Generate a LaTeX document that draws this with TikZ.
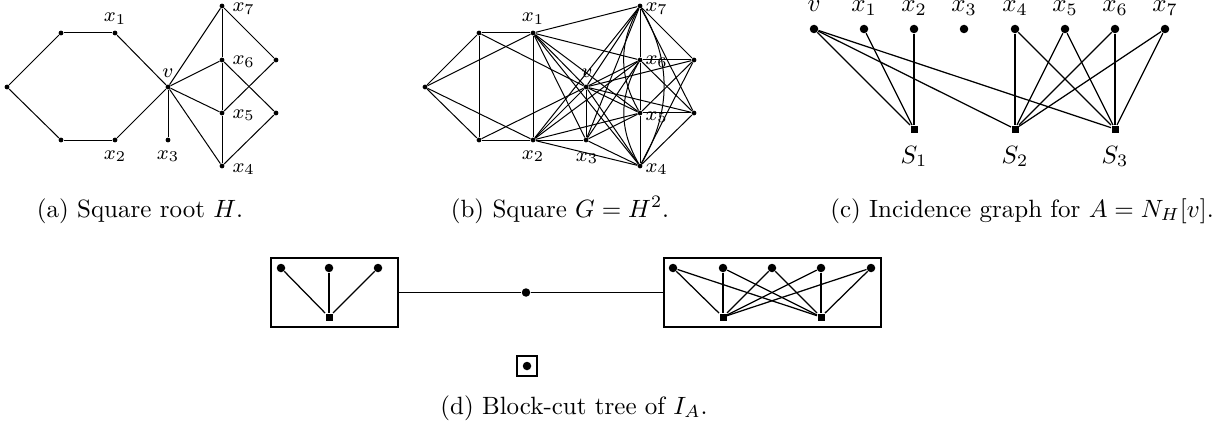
\documentclass[tikz,border=0pt]{standalone}
\usetikzlibrary{calc}
\begin{document}
\begin{tikzpicture}[x=0.4pt,y=-0.4pt,
  sdot/.style={circle,fill=black,inner sep=0pt,minimum size=1.9pt},
  bdot/.style={circle,fill=black,inner sep=0pt,minimum size=3.4pt},
  sq/.style={rectangle,fill=black,inner sep=0pt,minimum size=2.8pt},
  sedge/.style={line width=0.4pt},
  bedge/.style={line width=0.5pt},
  slab/.style={font=\fontsize{8.5}{10}\selectfont,inner sep=0pt},
  blab/.style={font=\fontsize{10}{12}\selectfont,inner sep=0pt,anchor=base},
  captext/.style={font=\fontsize{10}{12}\selectfont,inner sep=0pt,anchor=base},
  blk/.style={draw,line width=0.45pt,inner sep=0pt,rectangle}
]
\useasboundingbox (0,0) rectangle (1217,426);
\clip (0,0) rectangle (1217,426);

% ---------- (a) and (b): vertices ----------
\foreach \n/\x/\y in {L/0/87, TL/54/33, X1/108/33, BL/54/140, X2/108/140,
  V/161/87, X3/161/140, X7/215/6, X6/215/60, X5/215/113, X4/215/166,
  R1/269/60, R2/269/113} {
  \node[sdot] (a\n) at (7+\x,\y) {};
  \node[sdot] (b\n) at (425+\x,\y) {};
}
% edges of H (in both)
\foreach \p/\q in {L/TL, TL/X1, X1/V, V/X2, X2/BL, BL/L, V/X3, V/X4, V/X5,
  V/X6, V/X7, X7/X6, X6/X5, X5/X4, X7/R1, X5/R1, X6/R2, X4/R2} {
  \draw[sedge] (a\p) -- (a\q);
  \draw[sedge] (b\p) -- (b\q);
}
% extra edges of G = H^2
\foreach \p/\q in {L/X1, L/X2, TL/BL, TL/V, BL/V, X1/X2, X1/X3, X1/X4, X1/X5,
  X1/X6, X1/X7, X2/X3, X2/X4, X2/X5, X2/X6, X2/X7, X3/X4, X3/X5, X3/X6, X3/X7,
  V/R1, V/R2, X6/R1, X4/R1, X7/R2, X5/R2} {
  \draw[sedge] (b\p) -- (b\q);
}
\draw[sedge] (bX7) to[bend right=30] (bX5);
\draw[sedge] (bX6) to[bend right=30] (bX4);
\draw[sedge] (bX7) to[bend left=30] (bX4);

% labels (a)
\node[slab,anchor=base] (la1) at (115,22) {$x_1$};
\node[slab,anchor=base] (lav) at (168,78) {$v$};
\node[slab,anchor=base] (la2) at (115,159) {$x_2$};
\node[slab,anchor=base] (la3) at (168,159) {$x_3$};
\node[slab,anchor=base west] (la7) at (232,12) {$x_7$};
\node[slab,anchor=base west] (la6) at (232,65) {$x_6$};
\node[slab,anchor=base west] (la5) at (232,118) {$x_5$};
\node[slab,anchor=base west] (la4) at (232,172) {$x_4$};
% labels (b)
\node[slab,anchor=base] (lb1) at (533,22) {$x_1$};
\node[slab,anchor=base] (lbv) at (587,78) {$v$};
\node[slab,anchor=base] (lb2) at (533,159) {$x_2$};
\node[slab,anchor=base] (lb3) at (587,161) {$x_3$};
\node[slab,anchor=base west] (lb7) at (645,12) {$x_7$};
\node[slab,anchor=base west] (lb6) at (645,65) {$x_6$};
\node[slab,anchor=base west] (lb5) at (645,120) {$x_5$};
\node[slab,anchor=base west] (lb4) at (645,172) {$x_4$};

% ---------- (c) incidence graph ----------
\foreach \n/\x/\t in {V/814/v, X1/864/x_1, X2/914/x_2, X3/964/x_3, X4/1015/x_4,
  X5/1065/x_5, X6/1115/x_6, X7/1165/x_7} {
  \node[bdot] (c\n) at (\x,29) {};
  \node[blab] (lc\n) at (\x,12) {$\t$};
}
\foreach \n/\x in {1/914, 2/1015, 3/1115} {
  \node[sq] (cS\n) at (\x,129) {};
  \node[blab] (lcS\n) at (\x,163) {$S_\n$};
}
\foreach \p in {V, X1, X2} \draw[bedge] (c\p) -- (cS1);
\foreach \p in {V, X4, X5, X6, X7} {
  \draw[bedge] (c\p) -- (cS2);
  \draw[bedge] (c\p) -- (cS3);
}

% ---------- (d) block-cut tree ----------
\node[blk,minimum width=50.8pt,minimum height=27.6pt] (lbox) at (334.5,292.5) {};
\node[blk,minimum width=86.8pt,minimum height=27.6pt] (rbox) at (772.5,292.5) {};
\node[bdot] (mid) at (526,292.5) {};
\draw[bedge] (lbox) -- (mid) -- (rbox);
\foreach \n/\x in {1/281, 2/329, 3/378} \node[bdot] (dl\n) at (\x,268) {};
\node[sq] (dlS) at (329,317) {};
\foreach \n in {1,2,3} \draw[bedge] (dl\n) -- (dlS);
\foreach \n/\x in {1/673, 2/723, 3/772, 4/821, 5/871} \node[bdot] (dr\n) at (\x,268) {};
\node[sq] (drS1) at (723,317) {};
\node[sq] (drS2) at (821,317) {};
\foreach \n in {1,...,5} {
  \draw[bedge] (dr\n) -- (drS1);
  \draw[bedge] (dr\n) -- (drS2);
}
\node[blk,minimum size=8pt] (cutbox) at (527,366) {};
\node[bdot] (cutdot) at (527,366) {};

% ---------- captions ----------
\node[captext] (capa) at (140,217) {(a) Square root $H$.};
\node[captext] (capb) at (560,217) {(b) Square $G=H^2$.};
\node[captext] (capc) at (1022,217) {(c) Incidence graph for $A=N_H[v]$.};
\node[captext] (capd) at (574,414) {(d) Block-cut tree of $I_A$.};
\end{tikzpicture}
\end{document}
